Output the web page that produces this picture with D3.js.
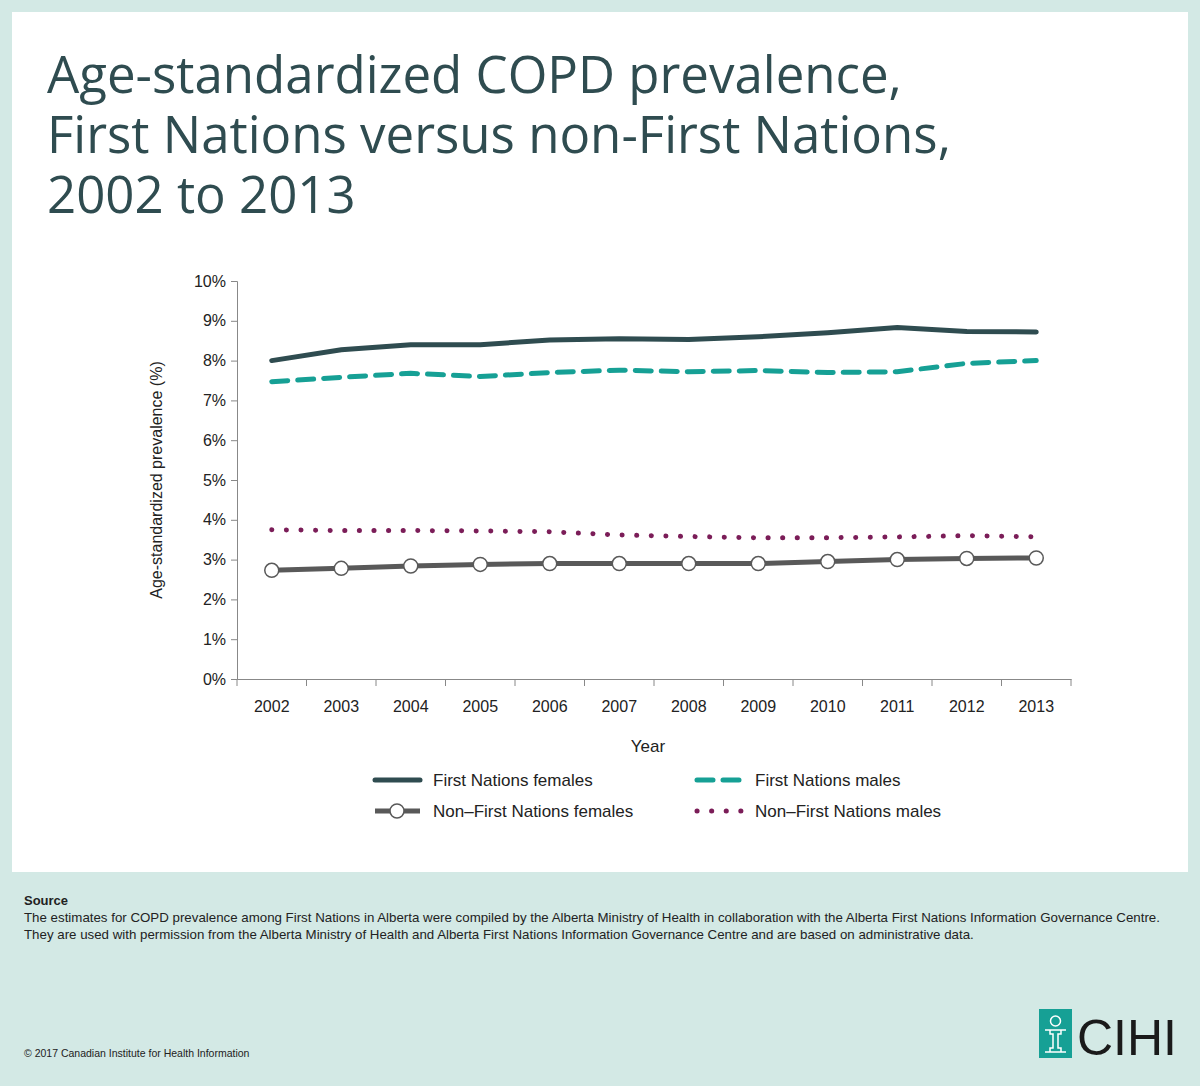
<!DOCTYPE html>
<html><head><meta charset="utf-8">
<script src="https://cdn.jsdelivr.net/npm/d3@7"></script>
<style>body{margin:0;background:#d3e9e5;font-family:"Liberation Sans",Arial,sans-serif}</style>
</head><body>
<script>
const years = [2002,2003,2004,2005,2006,2007,2008,2009,2010,2011,2012,2013];
const fnFemales = [8.0,8.27,8.4,8.4,8.52,8.55,8.53,8.6,8.7,8.83,8.73,8.72];
const fnMales = [7.47,7.58,7.68,7.6,7.7,7.76,7.72,7.75,7.7,7.72,7.93,8.0];
const nonFnFemales = [2.73,2.78,2.84,2.88,2.9,2.9,2.9,2.9,2.95,3.0,3.03,3.04];
const nonFnMales = [3.75,3.73,3.73,3.72,3.7,3.62,3.58,3.55,3.55,3.57,3.6,3.57];
const yTicks = [0,1,2,3,4,5,6,7,8,9,10];

const W = 1200, H = 1086;
const svg = d3.select('body').append('svg').attr('width', W).attr('height', H);
svg.append('rect').attr('width', W).attr('height', H).attr('fill', '#d3e9e5');
svg.append('rect').attr('x', 12).attr('y', 12).attr('width', 1176).attr('height', 860).attr('fill', '#fff');

// title
['Age-standardized COPD prevalence,', 'First Nations versus non-First Nations,', '2002 to 2013']
  .forEach((t, i) => svg.append('text').attr('x', 47).attr('y', 93 + i * 60).text(t)
    .style('font-family', '"Open Sans", sans-serif').style('font-size', '51px').attr('fill', '#2f4c50'));

const x = d3.scaleBand().domain(years).range([237, 1071]);
const y = d3.scaleLinear().domain([0, 10]).range([679, 281]);
const cx = d => x(d) + x.bandwidth() / 2;

// y axis
svg.append('g').attr('transform', 'translate(237,0)')
  .call(d3.axisLeft(y).tickValues(yTicks).tickFormat(d => d + '%').tickSize(6).tickPadding(5))
  .call(g => g.selectAll('text').style('font-size', '16px').attr('fill', '#222'))
  .call(g => g.selectAll('line,path').attr('stroke', '#888'));

// x axis, ticks at category boundaries
const gx = svg.append('g').attr('transform', 'translate(0,679)')
  .call(d3.axisBottom(x).tickSize(0).tickPadding(22))
  .call(g => g.selectAll('text').style('font-size', '16px').attr('fill', '#222'))
  .call(g => g.select('.domain').attr('stroke', '#888'));
gx.selectAll('.bound').data(years.concat([null])).join('line')
  .attr('x1', (d, i) => 237 + i * x.step()).attr('x2', (d, i) => 237 + i * x.step())
  .attr('y1', 0).attr('y2', 7).attr('stroke', '#888');

svg.append('text').attr('x', 648).attr('y', 752).attr('text-anchor', 'middle')
  .style('font-size', '17px').attr('fill', '#222').text('Year');
svg.append('text').attr('transform', 'translate(162,480) rotate(-90)').attr('text-anchor', 'middle')
  .style('font-size', '16px').attr('fill', '#222').text('Age-standardized prevalence (%)');

const line = d3.line().x((d, i) => cx(years[i])).y(d => y(d));
const series = [
  {name: 'First Nations females', v: fnFemales, color: '#2f4c50', dash: null, w: 5, cap: 'round'},
  {name: 'First Nations males', v: fnMales, color: '#16a095', dash: '16,10', w: 5, cap: 'round'},
  {name: 'Non\u2013First Nations females', v: nonFnFemales, color: '#595959', dash: null, w: 5, cap: 'butt', marker: true},
  {name: 'Non\u2013First Nations males', v: nonFnMales, color: '#7b1d58', dash: '0.1,14.5', w: 5, cap: 'round'}
];
series.forEach(s => {
  svg.append('path').datum(s.v).attr('d', line).attr('fill', 'none').attr('stroke', s.color)
    .attr('stroke-width', s.w).attr('stroke-dasharray', s.dash).attr('stroke-linecap', s.cap);
  if (s.marker) svg.selectAll(null).data(s.v).join('circle')
    .attr('cx', (d, i) => cx(years[i])).attr('cy', d => y(d)).attr('r', 7)
    .attr('fill', '#fff').attr('stroke', '#595959').attr('stroke-width', 1.5);
});

// legend
const lg = [[375, 780], [697, 780], [375, 811], [697, 811]];
series.forEach((s, i) => {
  const [lx, ly] = lg[i];
  svg.append('line').attr('x1', lx).attr('x2', lx + 45).attr('y1', ly).attr('y2', ly)
    .attr('stroke', s.color).attr('stroke-width', s.w).attr('stroke-dasharray', s.dash).attr('stroke-linecap', s.cap);
  if (s.marker) svg.append('circle').attr('cx', lx + 22).attr('cy', ly).attr('r', 7)
    .attr('fill', '#fff').attr('stroke', '#595959').attr('stroke-width', 1.5);
  svg.append('text').attr('x', lx + 58).attr('y', ly + 6).style('font-size', '17px').attr('fill', '#222').text(s.name);
});

// source
svg.append('text').attr('x', 24).attr('y', 905).style('font-size', '13px').style('font-weight', 'bold').attr('fill', '#222').text('Source');
['The estimates for COPD prevalence among First Nations in Alberta were compiled by the Alberta Ministry of Health in collaboration with the Alberta First Nations Information Governance Centre.',
 'They are used with permission from the Alberta Ministry of Health and Alberta First Nations Information Governance Centre and are based on administrative data.']
  .forEach((t, i) => svg.append('text').attr('x', 24).attr('y', 922 + i * 17).style('font-size', '13.3px').attr('fill', '#222').text(t));
svg.append('text').attr('x', 24).attr('y', 1057).style('font-size', '10.5px').attr('fill', '#222').text('\u00a9 2017 Canadian Institute for Health Information');

// logo
const logo = svg.append('g').attr('transform', 'translate(1039,1009)');
logo.append('rect').attr('width', 33).attr('height', 49).attr('fill', '#16a095');
logo.append('circle').attr('cx', 16.5).attr('cy', 12).attr('r', 5).attr('fill', 'none').attr('stroke', '#fff').attr('stroke-width', 1.5);
logo.append('path').attr('d', 'M6,21 H27 M6,43 H27 M11,21 V25 H14 V39 H11 V43 M22,21 V25 H19 V39 H22 V43')
  .attr('fill', 'none').attr('stroke', '#fff').attr('stroke-width', 1.5);
svg.append('text').attr('x', 1077).attr('y', 1055).style('font-size', '50px').attr('fill', '#1a1a1a').text('CIHI');
</script>
</body></html>
